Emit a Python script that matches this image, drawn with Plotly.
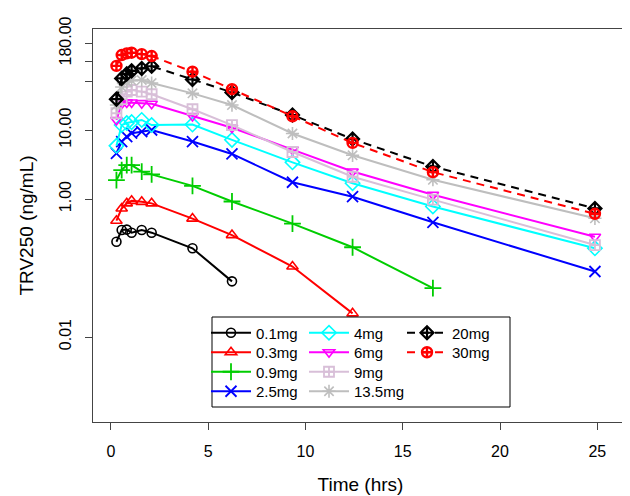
import plotly.graph_objects as go

# ---- data ----
# sampling times (hrs) as they sit on the reference's time axis
times = [0.28, 0.55, 0.81, 1.06, 1.58, 2.09, 4.19, 6.22, 9.33, 12.42, 16.55, 24.88]

dose_labels = ["0.1mg", "0.3mg", "0.9mg", "2.5mg", "4mg", "6mg", "9mg", "13.5mg", "20mg", "30mg"]

conc_01 = [0.24, 0.355, 0.36, 0.325, 0.355, 0.325, 0.193, 0.064]
conc_03 = [0.485, 0.73, 0.865, 0.94, 0.91, 0.865, 0.52, 0.30, 0.105, 0.022]
conc_09 = [1.88, 2.63, 3.1, 3.1, 2.49, 2.28, 1.55, 0.92, 0.44, 0.20, 0.051]
conc_25 = [4.6, 6.8, 8.0, 9.0, 9.45, 10.0, 6.8, 4.5, 1.75, 1.08, 0.46, 0.089]
conc_4 = [5.9, 11.8, 12.6, 13.0, 14.0, 11.8, 12.0, 7.2, 3.4, 1.69, 0.78, 0.193]
conc_6 = [14, 24, 25, 25, 24.5, 24, 16, 10.8, 5.2, 2.5, 1.15, 0.284]
conc_9 = [17.5, 28, 36, 38, 36, 33, 20, 11.8, 4.8, 2.1, 0.98, 0.215]
conc_135 = [23, 42, 50, 52, 53, 48, 34, 23, 8.9, 4.3, 1.9, 0.525]
conc_20 = [28, 56, 65, 72, 78, 84, 54, 35, 16.5, 7.4, 2.95, 0.73]
conc_30 = [85, 122, 129, 132, 126, 118, 70, 39, 15.8, 6.5, 2.45, 0.61]

series = [conc_01, conc_03, conc_09, conc_25, conc_4, conc_6, conc_9, conc_135, conc_20, conc_30]

y_tickvals = [0.01, 1, 10, 50, 100, 180]
y_ticktext = ["0.01", "1.00", "10.00", "", "", "180.00"]
x_tickvals = [0, 5, 10, 15, 20, 25]

# ---- styles ----
colors = ["#000000", "#FF0000", "#00CD00", "#0000FF", "#00FFFF",
          "#FF00FF", "#D8BFD8", "#BEBEBE", "#000000", "#FF0000"]
symbols = ["circle-open", "triangle-up-open", "cross-thin-open", "x-thin-open", "diamond-open",
           "triangle-down-open", "square-cross-open", "asterisk-open", "diamond-cross-open",
           "circle-cross-open"]
sizes = [9, 10, 12, 11, 11, 10, 10, 11, 10, 10]
marker_lw = [1.6, 1.6, 1.8, 1.8, 1.6, 1.6, 1.8, 1.6, 2.2, 2.4]
dashes = ["solid"] * 8 + ["8px,6px", "8px,6px"]

W, H = 630, 496
# plot box in reference pixels
BOX_L, BOX_R, BOX_T, BOX_B = 93, 628, 29, 422
SHIFT = 8  # page body margin offset
ML, MT = BOX_L - SHIFT, BOX_T - SHIFT
MR, MB = W - (BOX_R - SHIFT), H - (BOX_B - SHIFT)
PW, PH = BOX_R - BOX_L, BOX_B - BOX_T

def px_x(p):
    return (p - BOX_L) / PW

def px_y(p):
    return (BOX_B - p) / PH

fig = go.Figure()
legend_layouts = {}
col_left = [206, 304, 402]
row_mid = [333, 352.5, 372, 391.5]
for i, (lab, ys) in enumerate(zip(dose_labels, series)):
    key = "legend" if i == 0 else f"legend{i + 1}"
    col, row = i // 4, i % 4
    legend_layouts[key] = dict(
        x=px_x(col_left[col]), y=px_y(row_mid[row]), xanchor="left", yanchor="middle",
        bgcolor="rgba(0,0,0,0)", borderwidth=0, itemwidth=40,
        font=dict(family="Liberation Sans, Arial, sans-serif", size=15, color="black"))
    fig.add_trace(go.Scatter(
        x=times[:len(ys)], y=ys, name=lab, mode="lines+markers", legend=key,
        line=dict(color=colors[i], width=2, dash=dashes[i]),
        marker=dict(symbol=symbols[i], size=sizes[i], color=colors[i],
                    line=dict(color=colors[i], width=marker_lw[i])),
    ))

fig.add_shape(type="rect", xref="paper", yref="paper",
              x0=px_x(212), x1=px_x(510), y0=px_y(407), y1=px_y(317),
              line=dict(color="black", width=1), fillcolor="rgba(0,0,0,0)")

fig.update_layout(
    template="none",
    width=W, height=H,
    margin=dict(l=ML, r=MR, t=MT, b=MB, autoexpand=False),
    plot_bgcolor="white", paper_bgcolor="white",
    font=dict(family="Liberation Sans, Arial, sans-serif", size=16, color="black"),
    showlegend=True,
    **legend_layouts,
)
fig.update_xaxes(
    automargin=False,
    range=[-0.925, 26.58], tickvals=x_tickvals, ticks="outside", ticklen=7,
    tickcolor="#444", showline=True, linecolor="#444", linewidth=1, mirror=True,
    showgrid=False, zeroline=False, ticklabelstandoff=8,
    title=dict(text="Time (hrs)", standoff=18),
)
fig.update_yaxes(
    automargin=False,
    type="log", range=[-3.232, 2.464], tickvals=y_tickvals, ticktext=y_ticktext,
    tickangle=-90, ticks="outside", ticklen=7, tickcolor="#444",
    showline=True, linecolor="#444", linewidth=1, mirror=True,
    showgrid=False, zeroline=False, ticklabelstandoff=8,
    title=dict(text="TRV250 (ng/mL)", standoff=17),
)

fig.write_html("out.html")
